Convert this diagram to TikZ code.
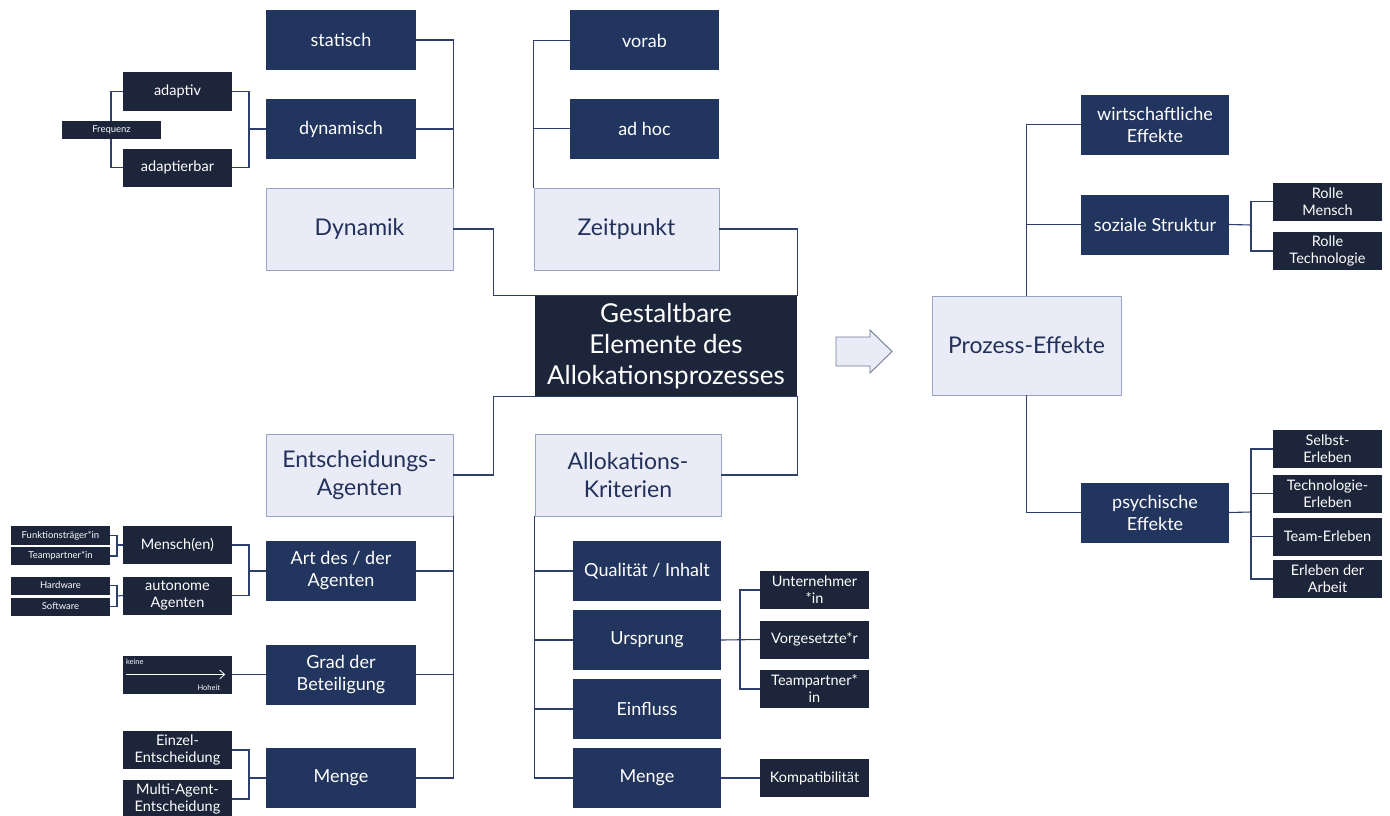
\documentclass[tikz,border=0pt]{standalone}
\usepackage{fontspec}
\setmainfont{Lato}
\usepackage{tikz}
\usetikzlibrary{arrows.meta}
\definecolor{nightblue}{HTML}{1C2539}
\definecolor{midblue}{HTML}{22355F}
\definecolor{paleblue}{HTML}{E9ECF6}
\definecolor{rimblue}{HTML}{9AA4C4}
\definecolor{linkblue}{HTML}{2E3F6E}
\definecolor{textblue}{HTML}{23305A}
\begin{document}
\begin{tikzpicture}[x=1pt,y=-1pt]
\tikzstyle{every node}+=[inner sep=0pt, align=center]
\tikzstyle{cat}=[draw=rimblue, fill=paleblue, text=textblue, minimum width=187, minimum height=82, font=\fontsize{23}{28}\selectfont]
\tikzstyle{sub}=[fill=midblue, text=white, minimum width=150, minimum height=60, font=\fontsize{18}{22}\selectfont]
\tikzstyle{leaf}=[fill=nightblue, text=white, minimum width=109, minimum height=38, font=\fontsize{14.5}{17}\selectfont]
\tikzstyle{tiny}=[fill=nightblue, text=white!80!paleblue, minimum width=99, minimum height=18, font=\fontsize{9.5}{10}\selectfont]
\tikzstyle{link}=[draw=linkblue, line width=1.1pt]
\useasboundingbox (0,0) rectangle (1390,816);
\node[sub] (statisch) at (341,40) {statisch};
\node[sub] (dynamisch) at (341,129) {dynamisch};
\node[cat] (Dynamik) at (359.5,229) {Dynamik};
\node[leaf] (adaptiv) at (177.5,91.5) {adaptiv};
\node[leaf] (adaptierbar) at (177.5,167.5) {adaptierbar};
\node[sub, minimum width=149] (vorab) at (644.5,40.5) {vorab};
\node[sub, minimum width=149] (adhoc) at (644.5,128.5) {ad hoc};
\node[cat, minimum width=185] (Zeitpunkt) at (626.5,229) {Zeitpunkt};
\node[fill=nightblue, text=white, minimum width=262, minimum height=100, font=\fontsize{26}{31}\selectfont] (central) at (666,346) {Gestaltbare\\Elemente des\\Allokationsprozesses};
\node[cat] (EA) at (359.5,475) {Entscheidungs-\\Agenten};
\node[cat, minimum width=186] (AK) at (628,475) {Allokations-\\Kriterien};
\node[sub] (Art) at (341,571) {Art des / der\\Agenten};
\node[sub] (Grad) at (341,674.5) {Grad der\\Beteiligung};
\node[sub] (MengeA) at (341,778) {Menge};
\node[leaf] (Mensch) at (177.5,545) {Mensch(en)};
\node[leaf] (autonom) at (177.5,595.5) {autonome\\Agenten};
\node[tiny, minimum height=19] (Funktion) at (60.5,535.5) {Funktionsträger*in};
\node[tiny] (TeamA) at (60.5,556) {Teampartner*in};
\node[tiny] (Hardware) at (60.5,585.5) {Hardware};
\node[tiny] (Software) at (60.5,606.5) {Software};
\node[leaf] (skala) at (177.5,674.5) {};
\node[leaf] (Einzel) at (177.5,750) {Einzel-\\Entscheidung};
\node[leaf] (Multi) at (177.5,799) {Multi-Agent-\\Entscheidung};
\node[sub, minimum width=148] (Quali) at (647,571) {Qualität / Inhalt};
\node[sub, minimum width=148] (Ursprung) at (647,640) {Ursprung};
\node[sub, minimum width=148] (Einfluss) at (647,709) {Einfluss};
\node[sub, minimum width=148] (MengeK) at (647,778) {Menge};
\node[leaf] (Unternehmer) at (814.5,590) {Unternehmer\\*in};
\node[leaf] (Vorgesetzte) at (814.5,639.5) {Vorgesetzte*r};
\node[leaf] (TeamK) at (814.5,689) {Teampartner*\\in};
\node[leaf] (Kompat) at (814.5,778) {Kompatibilität};
\node[cat, minimum width=189, minimum height=99] (PE) at (1026.5,345.5) {Prozess-Effekte};
\node[sub, minimum width=148] (wirt) at (1155,124.5) {wirtschaftliche\\Effekte};
\node[sub, minimum width=148] (sozial) at (1155,224.5) {soziale Struktur};
\node[sub, minimum width=148] (psych) at (1155,512.5) {psychische\\Effekte};
\node[leaf] (RolleM) at (1327.5,201.5) {Rolle\\Mensch};
\node[leaf] (RolleT) at (1327.5,251) {Rolle\\Technologie};
\node[leaf] (Selbst) at (1327.5,449) {Selbst-\\Erleben};
\node[leaf] (TechE) at (1327.5,493.5) {Technologie-\\Erleben};
\node[leaf] (TeamE) at (1327.5,536.5) {Team-Erleben};
\node[leaf] (Arbeit) at (1327.5,579) {Erleben der\\Arbeit};
\node[anchor=north west, text=white, font=\fontsize{7.5}{8}\selectfont] (keine) at ([shift={(3,3)}]skala.north west) {keine};
\node[anchor=south east, text=white, font=\fontsize{7.5}{8}\selectfont] (Hoheit) at ([shift={(-12,-3)}]skala.south east) {Hoheit};
\draw[white, line width=0.8pt, -{Straight Barb[length=5pt, width=9pt]}] ([xshift=3pt]skala.west) -- ([xshift=-7pt]skala.east);
\draw[link] (statisch.east) -| (Dynamik.north east);
\draw[link] (dynamisch.east) -- (dynamisch.east -| Dynamik.east);
\draw[link] (vorab.west) -| (Zeitpunkt.north west);
\draw[link] (adhoc.west) -- (adhoc.west -| Zeitpunkt.west);
\coordinate (jDyn) at (249,129);
\draw[link] (adaptiv.east) -| (jDyn) |- (adaptierbar.east);
\draw[link] (jDyn) -- (dynamisch.west);
\coordinate (jFreq) at (111,129);
\draw[link] (adaptiv.west) -| (jFreq) |- (adaptierbar.west);
\node[tiny] (Frequenz) at (111.5,129.5) {Frequenz};
\draw[link] (Dynamik.east) -| ([xshift=-41pt]central.north west) -- (central.north east) |- (Zeitpunkt.east);
\draw[link] (EA.east) -| ([xshift=-41pt]central.south west) -- (central.south east) |- (AK.east);
\draw[link] (EA.south east) |- (MengeA.east);
\draw[link] (Art.east) -- (Art.east -| EA.east);
\draw[link] (Grad.east) -- (Grad.east -| EA.east);
\coordinate (jArt) at (249,571);
\draw[link] (Mensch.east) -| (jArt) |- (autonom.east);
\draw[link] (jArt) -- (Art.west);
\coordinate (jMen) at (117,545);
\draw[link] (Funktion.east) -| (jMen) |- (TeamA.east);
\draw[link] (jMen) -- (Mensch.west);
\coordinate (jAut) at (117,596);
\draw[link] (Hardware.east) -| (jAut) |- (Software.east);
\draw[link] (jAut) -- (autonom.west);
\draw[link] (skala.east) -- (Grad.west);
\coordinate (jMenge) at (249,778);
\draw[link] (Einzel.east) -| (jMenge) |- (Multi.east);
\draw[link] (jMenge) -- (MengeA.west);
\draw[link] (AK.south west) |- (MengeK.west);
\draw[link] (Quali.west) -- (Quali.west -| AK.west);
\draw[link] (Ursprung.west) -- (Ursprung.west -| AK.west);
\draw[link] (Einfluss.west) -- (Einfluss.west -| AK.west);
\coordinate (jUrs) at (740,640);
\draw[link] (Unternehmer.west) -| (jUrs) |- (TeamK.west);
\draw[link] (Ursprung.east) -- (Vorgesetzte.west);
\draw[link] (MengeK.east) -- (Kompat.west);
\draw[link] (PE.north) |- (wirt.west);
\draw[link] (PE.north |- sozial.west) -- (sozial.west);
\draw[link] (PE.south) |- (psych.west);
\coordinate (jSoz) at (1251,225);
\draw[link] (RolleM.west) -| (jSoz) |- (RolleT.west);
\draw[link] (sozial.east) -- (jSoz);
\coordinate (jPsy) at (1251,512);
\draw[link] (Selbst.west) -| (jPsy) |- (Arbeit.west);
\draw[link] (psych.east) -- (jPsy);
\draw[link] (TechE.west) -- (TechE.west -| jPsy);
\draw[link] (TeamE.west) -- (TeamE.west -| jPsy);
\draw[draw=linkblue!70, fill=paleblue, line width=0.9pt] (836,337) -- (870,337) -- (870,330) -- (892,351.5) -- (870,373) -- (870,366) -- (836,366) -- cycle;
\end{tikzpicture}
\end{document}
